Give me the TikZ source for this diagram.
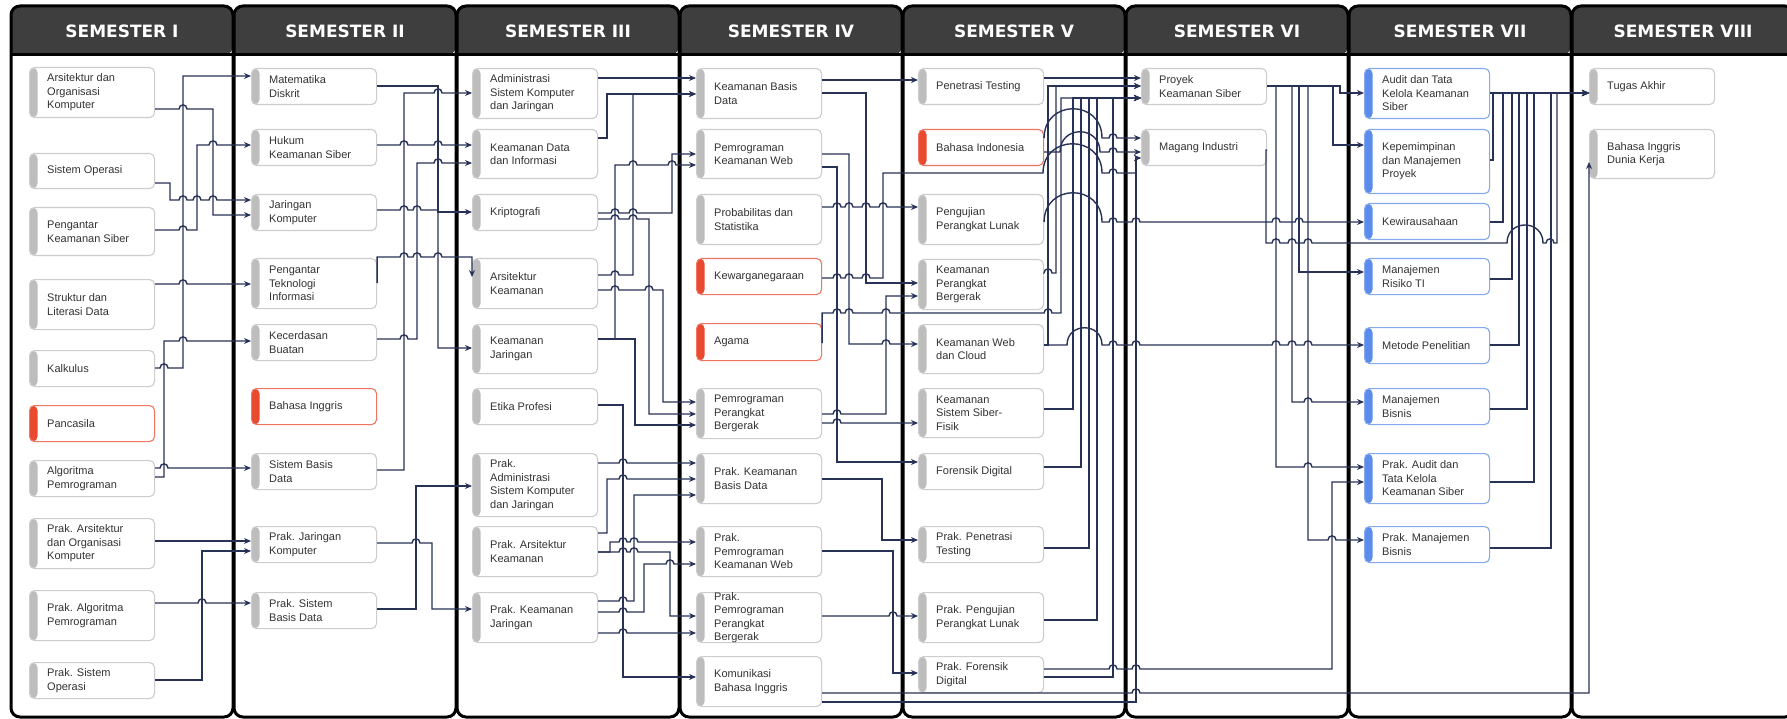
\documentclass[tikz,border=0pt]{standalone}
\usepackage{fontspec}
\setmainfont{Liberation Sans}
\newfontfamily\headfont{DejaVu Sans}
\usetikzlibrary{arrows.meta,calc}

\definecolor{headgray}{HTML}{3E3E3E}
\definecolor{linknavy}{HTML}{283257}
\definecolor{stripgray}{HTML}{BDBDBD}
\definecolor{stripred}{HTML}{E8492F}
\definecolor{stripblue}{HTML}{5B8CEB}
\definecolor{crstxt}{HTML}{333333}

\tikzset{
  link/.style={draw=linknavy, line width=1.4pt, -{Stealth[length=7pt,width=6pt]}},
  hop/.style={to path={.. controls ($(\tikztostart)+(0,-#1)$) and ($(\tikztotarget)+(0,-#1)$) .. (\tikztotarget)}},
  hop/.default=5.5,
  crs/.style={draw=#1!75!white, line width=1.1pt, fill=white, rounded corners=5pt,
    minimum width=125pt, inner sep=0pt, anchor=north west,
    path picture={\fill[#1] (path picture bounding box.south west) rectangle ([xshift=8pt]path picture bounding box.north west);}},
  crstext/.style={anchor=west, align=left, inner sep=0pt, text=crstxt, font=\fontsize{11}{13.5}\selectfont},
  semhead/.style={text=white, font=\headfont\bfseries\fontsize{17}{17}\selectfont},
}

% box: name, colour, top-left, height, text
\newcommand{\course}[5]{%
  \node[crs=#2, minimum height=#4] (#1) at #3 {};
  \node[crstext] (#1t) at ([xshift=18pt]#1.west) {#5};}

\begin{document}
\begin{tikzpicture}[x=1pt,y=-1pt]
\useasboundingbox (0,0) rectangle (1787,719);
\fill[white] (0,0) rectangle (1787,719);

% semester columns
\foreach \i/\lab in {0/I,1/II,2/III,3/IV,4/V,5/VI,6/VII,7/VIII}{
  \pgfmathsetmacro{\xl}{11+223*\i}
  \pgfmathsetmacro{\xr}{\xl+222}
  \pgfmathsetmacro{\xm}{\xl+111}
  \fill[headgray, rounded corners=9pt] (\xl,55) |- (\xm,6) -| (\xr,55) [sharp corners] -- cycle;
  \draw[line width=3pt, rounded corners=9pt] (\xl,6) rectangle (\xr,717);
  \draw[line width=3pt] (\xl,55) -- (\xr,55);
  \node[semhead] (sem\i) at (\xm,31) {SEMESTER \lab};
}

% semester I
\course{s1a}{stripgray}{(29,67)}{50}{Arsitektur dan\\Organisasi\\Komputer}
\course{s1b}{stripgray}{(29,153)}{35}{Sistem Operasi}
\course{s1c}{stripgray}{(29,207)}{48}{Pengantar\\Keamanan Siber}
\course{s1d}{stripgray}{(29,279)}{50}{Struktur dan\\Literasi Data}
\course{s1e}{stripgray}{(29,350)}{36}{Kalkulus}
\course{s1f}{stripred}{(29,405)}{36}{Pancasila}
\course{s1g}{stripgray}{(29,460)}{36}{Algoritma\\Pemrograman}
\course{s1h}{stripgray}{(29,518)}{50}{Prak. Arsitektur\\dan Organisasi\\Komputer}
\course{s1i}{stripgray}{(29,590)}{50}{Prak. Algoritma\\Pemrograman}
\course{s1j}{stripgray}{(29,662)}{36}{Prak. Sistem\\Operasi}

% semester II
\course{s2a}{stripgray}{(251,68)}{36}{Matematika\\Diskrit}
\course{s2b}{stripgray}{(251,129)}{36}{Hukum\\Keamanan Siber}
\course{s2c}{stripgray}{(251,194)}{36}{Jaringan\\Komputer}
\course{s2d}{stripgray}{(251,258)}{50}{Pengantar\\Teknologi\\Informasi}
\course{s2e}{stripgray}{(251,324)}{36}{Kecerdasan\\Buatan}
\course{s2f}{stripred}{(251,388)}{36}{Bahasa Inggris}
\course{s2g}{stripgray}{(251,453)}{36}{Sistem Basis\\Data}
\course{s2h}{stripgray}{(251,526)}{36}{Prak. Jaringan\\Komputer}
\course{s2i}{stripgray}{(251,592)}{36}{Prak. Sistem\\Basis Data}

% semester III
\course{s3a}{stripgray}{(472,68)}{50}{Administrasi\\Sistem Komputer\\dan Jaringan}
\course{s3b}{stripgray}{(472,129)}{49}{Keamanan Data\\dan Informasi}
\course{s3c}{stripgray}{(472,194)}{36}{Kriptografi}
\course{s3d}{stripgray}{(472,258)}{50}{Arsitektur\\Keamanan}
\course{s3e}{stripgray}{(472,324)}{49}{Keamanan\\Jaringan}
\course{s3f}{stripgray}{(472,388)}{36}{Etika Profesi}
\course{s3g}{stripgray}{(472,453)}{63}{Prak.\\Administrasi\\Sistem Komputer\\dan Jaringan}
\course{s3h}{stripgray}{(472,526)}{50}{Prak. Arsitektur\\Keamanan}
\course{s3i}{stripgray}{(472,592)}{50}{Prak. Keamanan\\Jaringan}

% semester IV
\course{s4a}{stripgray}{(696,68)}{50}{Keamanan Basis\\Data}
\course{s4b}{stripgray}{(696,129)}{49}{Pemrograman\\Keamanan Web}
\course{s4c}{stripgray}{(696,194)}{50}{Probabilitas dan\\Statistika}
\course{s4d}{stripred}{(696,258)}{36}{Kewarganegaraan}
\course{s4e}{stripred}{(696,323)}{37}{Agama}
\course{s4f}{stripgray}{(696,388)}{50}{Pemrograman\\Perangkat\\Bergerak}
\course{s4g}{stripgray}{(696,453)}{50}{Prak. Keamanan\\Basis Data}
\course{s4h}{stripgray}{(696,526)}{50}{Prak.\\Pemrograman\\Keamanan Web}
\course{s4i}{stripgray}{(696,592)}{50}{Prak.\\Pemrograman\\Perangkat\\Bergerak}
\course{s4j}{stripgray}{(696,656)}{50}{Komunikasi\\Bahasa Inggris}

% semester V
\course{s5a}{stripgray}{(918,68)}{36}{Penetrasi Testing}
\course{s5b}{stripred}{(918,129)}{36}{Bahasa Indonesia}
\course{s5c}{stripgray}{(918,194)}{50}{Pengujian\\Perangkat Lunak}
\course{s5d}{stripgray}{(918,259)}{50}{Keamanan\\Perangkat\\Bergerak}
\course{s5e}{stripgray}{(918,324)}{49}{Keamanan Web\\dan Cloud}
\course{s5f}{stripgray}{(918,388)}{49}{Keamanan\\Sistem Siber-\\Fisik}
\course{s5g}{stripgray}{(918,453)}{36}{Forensik Digital}
\course{s5h}{stripgray}{(918,526)}{36}{Prak. Penetrasi\\Testing}
\course{s5i}{stripgray}{(918,592)}{50}{Prak. Pengujian\\Perangkat Lunak}
\course{s5j}{stripgray}{(918,656)}{36}{Prak. Forensik\\Digital}

% semester VI
\course{s6a}{stripgray}{(1141,68)}{36}{Proyek\\Keamanan Siber}
\course{s6b}{stripgray}{(1141,129)}{36}{Magang Industri}

% semester VII
\course{s7a}{stripblue}{(1364,68)}{50}{Audit dan Tata\\Kelola Keamanan\\Siber}
\course{s7b}{stripblue}{(1364,129)}{64}{Kepemimpinan\\dan Manajemen\\Proyek}
\course{s7c}{stripblue}{(1364,203)}{36}{Kewirausahaan}
\course{s7d}{stripblue}{(1364,258)}{36}{Manajemen\\Risiko TI}
\course{s7e}{stripblue}{(1364,327)}{36}{Metode Penelitian}
\course{s7f}{stripblue}{(1364,388)}{36}{Manajemen\\Bisnis}
\course{s7g}{stripblue}{(1364,453)}{50}{Prak. Audit dan\\Tata Kelola\\Keamanan Siber}
\course{s7h}{stripblue}{(1364,526)}{36}{Prak. Manajemen\\Bisnis}

% semester VIII
\course{s8a}{stripgray}{(1589,68)}{36}{Tugas Akhir}
\course{s8b}{stripgray}{(1589,129)}{49}{Bahasa Inggris\\Dunia Kerja}

% I -> II
\draw[link] (s1a.east |- 0,109) -- (179,109) to[hop] (187,109) -| (213,215) -- (s2c.west |- 0,215);
\draw[link] (s1b.east |- 0,183) -| (170,200) -- (179,200) to[hop] (187,200) -- (193,200) to[hop] (201,200) -- (209,200) to[hop] (217,200) -- (s2c.west |- 0,200);
\draw[link] (s1c.east |- 0,230) -- (179,230) to[hop] (187,230) -| (197,145) -- (209,145) to[hop] (217,145) -- (s2b.west |- 0,145);
\draw[link] (s1d.east |- 0,284) -- (179,284) to[hop] (187,284) -- (s2d.west |- 0,284);
\draw[link] (s1e.east |- 0,368) -- (160,368) to[hop] (168,368) -| (183,76) -- (s2a.west |- 0,76);
\draw[link] (s1g.east |- 0,477) -| (164,341) -- (179,341) to[hop] (187,341) -- (s2e.west |- 0,341);
\draw[link] (s1g.east |- 0,468) -- (160,468) to[hop] (168,468) -- (s2g.west |- 0,468);
\draw[link] (s1h.east |- 0,541) -- (s2h.west |- 0,541);
\draw[link] (s1j.east |- 0,680) -| (202,551) -- (s2h.west |- 0,551);
\draw[link] (s1i.east |- 0,603) -- (198,603) to[hop] (206,603) -- (s2i.west |- 0,603);

% II -> III
\draw[link] (s2a.east |- 0,86) -| (438,212) -- (s3c.west |- 0,212);
\draw[link] (s2g.east |- 0,470) -| (404,93) -- (434,93) to[hop] (442,93) -- (s3a.west |- 0,93);
\draw[link] (s2b.east |- 0,145) -- (400,145) to[hop] (408,145) -- (434,145) to[hop] (442,145) -- (s3b.west |- 0,145);
\draw[link] (s2e.east |- 0,339) -- (400,339) to[hop] (408,339) -| (417,163) -- (434,163) to[hop] (442,163) -- (s3b.west |- 0,163);
\draw[link] (s2c.east |- 0,210) -- (400,210) to[hop] (408,210) -- (413,210) to[hop] (421,210) -| (438,348) -- (s3e.west |- 0,348);
\draw[link] (s2d.east |- 0,283) -- (s2d.east |- 0,257) -- (400,257) to[hop] (408,257) -- (413,257) to[hop] (421,257) -- (434,257) to[hop] (442,257) -| (s3d.west |- 0,277);
\draw[link] (s2h.east |- 0,543) -- (412,543) to[hop] (420,543) -| (432,609) -- (s3i.west |- 0,609);
\draw[link] (s2i.east |- 0,609) -| (416,486) -- (s3g.west |- 0,486);

% III -> IV
\draw[link] (s3a.east |- 0,78) -- (s4a.west |- 0,78);
\draw[link] (s3b.east |- 0,138) -| (607,94) -- (s4a.west |- 0,94);
\draw[link] (s3d.east |- 0,275) -- (611,275) to[hop] (619,275) -| (633,94) -- (s4a.west |- 0,94);
\draw[link] (s3c.east |- 0,213) -- (611,213) to[hop] (619,213) -- (629,213) to[hop] (637,213) -| (672,154) -- (s4b.west |- 0,154);
\draw[link] (s3c.east |- 0,219) -- (611,219) to[hop] (619,219) -- (629,219) to[hop] (637,219) -| (649,414) -- (s4f.west |- 0,414);
\draw[link] (s3e.east |- 0,339) -| (615,165) -- (629,165) to[hop] (637,165) -- (668,165) to[hop] (676,165) -- (s4b.west |- 0,165);
\draw[link] (s3e.east |- 0,339) -| (635,425) -- (s4f.west |- 0,425);
\draw[link] (s3d.east |- 0,290) -- (611,290) to[hop] (619,290) -- (645,290) to[hop] (653,290) -| (663,402) -- (s4f.west |- 0,402);
\draw[link] (s3f.east |- 0,405) -| (623,677) -- (s4j.west |- 0,677);
\draw[link] (s3g.east |- 0,463) -- (619,463) to[hop] (627,463) -- (s4g.west |- 0,463);
\draw[link] (s3h.east |- 0,533) -| (607,479) -- (619,479) to[hop] (627,479) -- (s4g.west |- 0,479);
\draw[link] (s3i.east |- 0,601) -- (619,601) to[hop] (627,601) -| (634,495) -- (s4g.west |- 0,495);
\draw[link] (s3h.east |- 0,552) -| (610,542) -- (619,542) to[hop] (627,542) -- (630,542) to[hop] (638,542) -- (s4h.west |- 0,542);
\draw[link] (s3h.east |- 0,552) -- (619,552) to[hop] (627,552) -- (630,552) to[hop] (638,552) -| (670,616) -- (s4i.west |- 0,616);
\draw[link] (s3i.east |- 0,612) -- (619,612) to[hop] (627,612) -| (644,564) -- (666,564) to[hop] (674,564) -- (s4h.west |- 0,564);
\draw[link] (s3i.east |- 0,633) -- (619,633) to[hop] (627,633) -- (s4i.west |- 0,633);

% IV -> V
\draw[link] (s4a.east |- 0,80) -- (s5a.west |- 0,80);
\draw[link] (s4a.east |- 0,93) -| (866,283) -- (s5d.west |- 0,283);
\draw[link] (s4b.east |- 0,154) -| (849,344) -- (882,344) to[hop] (890,344) -- (s5e.west |- 0,344);
\draw[link] (s4b.east |- 0,167) -| (837,462) -- (s5g.west |- 0,462);
\draw[link] (s4c.east |- 0,207) -- (833,207) to[hop] (841,207) -- (845,207) to[hop] (853,207) -- (862,207) to[hop] (870,207) -- (879,207) to[hop] (887,207) -- (s5c.west |- 0,207);
\draw[link] (s4f.east |- 0,414) -- (833,414) to[hop] (841,414) -| (886,296) -- (s5d.west |- 0,296);
\draw[link] (s4f.east |- 0,423) -- (833,423) to[hop] (841,423) -- (s5f.west |- 0,423);
\draw[link] (s4g.east |- 0,479) -| (882,540) -- (s5h.west |- 0,540);
\draw[link] (s4h.east |- 0,551) -| (893,673) -- (s5j.west |- 0,673);
\draw[link] (s4i.east |- 0,616) -- (889,616) to[hop] (897,616) -- (s5i.west |- 0,616);

% IV, V -> VI
\draw[link] (s4d.east |- 0,278) -- (833,278) to[hop] (841,278) -- (845,278) to[hop] (853,278) -- (862,278) to[hop] (870,278) -| (883,173) -- (1043,173) to[hop=39] (1102,173) -- (1109,173) to[hop] (1117,173) -- (1136,173) |- (s6b.west |- 0,158);
\draw[link] (s4e.east |- 0,343) -- (s4e.east |- 0,313) -- (833,313) to[hop] (841,313) -- (845,313) to[hop] (853,313) -- (882,313) to[hop] (890,313) -- (1044,313) to[hop] (1052,313) -| (1061,98) -- (s6a.west |- 0,98);
\draw[link] (s4j.east |- 0,702) -- (1136,702) |- (s6b.west |- 0,158);
\draw[link] (s4j.east |- 0,693) -- (1132,693) to[hop] (1140,693) -| (s8b.west |- 0,162);
\draw[link] (s5a.east |- 0,78) -- (s6a.west |- 0,78);
\draw[link] (s5d.east |- 0,273) -- (1044,273) to[hop] (1052,273) -| (1056,86) -- (s6a.west |- 0,86);
\draw[link] (s5e.east |- 0,345) -| (1048,86) -- (s6a.west |- 0,86);
\draw[link] (s5f.east |- 0,409) -| (1073,98) -- (s6a.west |- 0,98);
\draw[link] (s5g.east |- 0,467) -| (1081,98) -- (s6a.west |- 0,98);
\draw[link] (s5h.east |- 0,548) -| (1089,98) -- (s6a.west |- 0,98);
\draw[link] (s5i.east |- 0,620) -| (1097,98) -- (s6a.west |- 0,98);
\draw[link] (s5j.east |- 0,677) -| (1113,98) -- (s6a.west |- 0,98);
\draw[link] (s5b.east |- 0,138) to[hop=39] (1102,138) -- (1109,138) to[hop] (1117,138) -- (s6b.west |- 0,138);
\draw[link] (s5b.east |- 0,152) -- (1060,152) to[hop=27] (1100,152) -- (1109,152) to[hop] (1117,152) -- (s6b.west |- 0,152);

% V, VI -> VII
\draw[link] (s5c.east |- 0,222) to[hop=39] (1102,222) -- (1109,222) to[hop] (1117,222) -- (1132,222) to[hop] (1140,222) -- (1272,222) to[hop] (1280,222) -- (1295,222) to[hop] (1303,222) -- (s7c.west |- 0,222);
\draw[link] (s5e.east |- 0,345) -- (1067,345) to[hop=23] (1102,345) -- (1109,345) to[hop] (1117,345) -- (1132,345) to[hop] (1140,345) -- (1272,345) to[hop] (1280,345) -- (1288,345) to[hop] (1296,345) -- (1304,345) to[hop] (1312,345) -- (s7e.west |- 0,345);
\draw[link] (s5j.east |- 0,669) -- (1109,669) to[hop] (1117,669) -- (1132,669) to[hop] (1140,669) -| (1332,482) -- (s7g.west |- 0,482);
\draw[link] (s6a.east |- 0,86) -- (1340,86) |- (s7a.west |- 0,93);
\draw[link] (s6a.east |- 0,86) -- (1333,86) |- (s7b.west |- 0,145);
\draw[link] (s6a.east |- 0,86) -| (1299,272) -- (s7d.west |- 0,272);
\draw[link] (s6a.east |- 0,86) -| (1292,402) -- (1304,402) to[hop] (1312,402) -- (s7f.west |- 0,402);
\draw[link] (s6a.east |- 0,86) -| (1276,467) -- (1304,467) to[hop] (1312,467) -- (s7g.west |- 0,467);
\draw[link] (s6a.east |- 0,86) -| (1308,540) -- (1328,540) to[hop] (1336,540) -- (s7h.west |- 0,540);
\draw[link] (s6b.east |- 0,150) -| (1266,243) -- (1272,243) to[hop] (1280,243) -- (1288,243) to[hop] (1296,243) -- (1304,243) to[hop] (1312,243) -- (1507,243) to[hop=24] (1543,243) -- (1546,243) to[hop] (1554,243) -| (1557,93) -- (s8a.west |- 0,93);

% VII -> VIII
\draw[link] (s7a.east |- 0,93) -- (s8a.west |- 0,93);
\draw[link] (s7b.east |- 0,160) -| (1493,93) -- (s8a.west |- 0,93);
\draw[link] (s7c.east |- 0,222) -| (1503,93) -- (s8a.west |- 0,93);
\draw[link] (s7d.east |- 0,279) -| (1512,93) -- (s8a.west |- 0,93);
\draw[link] (s7e.east |- 0,345) -| (1519,93) -- (s8a.west |- 0,93);
\draw[link] (s7f.east |- 0,409) -| (1527,93) -- (s8a.west |- 0,93);
\draw[link] (s7g.east |- 0,482) -| (1534,93) -- (s8a.west |- 0,93);
\draw[link] (s7h.east |- 0,548) -| (1551,93) -- (s8a.west |- 0,93);
\end{tikzpicture}
\end{document}
